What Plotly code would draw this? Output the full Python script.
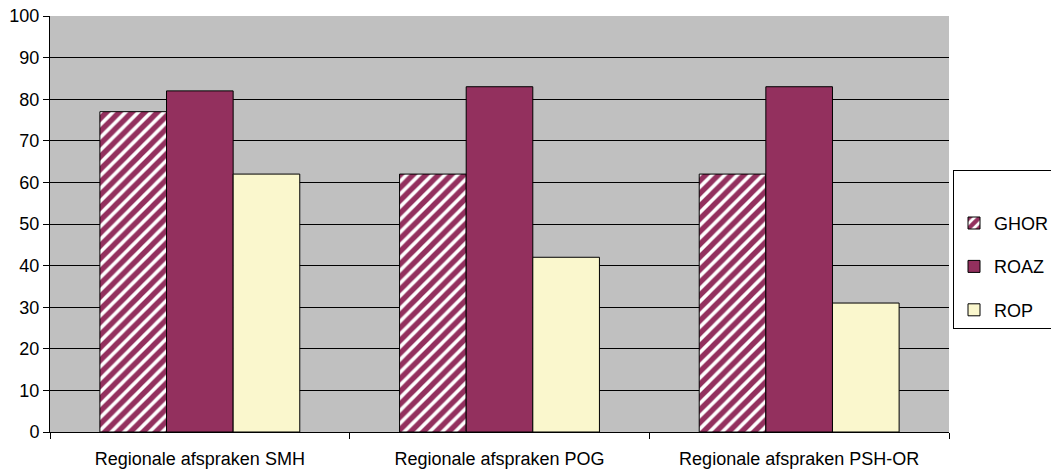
import plotly.graph_objects as go

categories = ["Regionale afspraken SMH", "Regionale afspraken POG", "Regionale afspraken PSH-OR"]
series_names = ["GHOR", "ROAZ", "ROP"]
ghor = [77, 62, 62]
roaz = [82, 83, 83]
rop = [62, 42, 31]
y_ticks = [0, 10, 20, 30, 40, 50, 60, 70, 80, 90, 100]

MAROON = "#93305E"
YELLOW = "#FAF7CD"
FONT = "Liberation Sans, Arial, sans-serif"

fig = go.Figure()
fig.add_trace(go.Bar(
    name=series_names[0], x=categories, y=ghor,
    marker=dict(color="white", line=dict(color="black", width=1),
                pattern=dict(shape="/", fgcolor=MAROON, bgcolor="white", size=9,
                             solidity=0.6, fgopacity=1)),
    legendgroup="a",
))
fig.add_trace(go.Bar(
    name=series_names[1], x=categories, y=roaz,
    marker=dict(color=MAROON, line=dict(color="black", width=1)),
    legendgroup="b",
))
fig.add_trace(go.Bar(
    name=series_names[2], x=categories, y=rop,
    marker=dict(color=YELLOW, line=dict(color="black", width=1)),
    legendgroup="c",
))

fig.update_layout(
    width=1051, height=471,
    margin=dict(l=50, r=102, t=16, b=39, autoexpand=False),
    paper_bgcolor="white",
    plot_bgcolor="#C0C0C0",
    barmode="group",
    bargap=0.333,
    bargroupgap=0,
    font=dict(family=FONT, size=18, color="black"),
    showlegend=True,
    legend=dict(
        x=(953 - 50) / 899, xanchor="left", y=(432 - 170) / 416, yanchor="top",
        bgcolor="white", bordercolor="black", borderwidth=1,
        font=dict(family=FONT, size=18, color="black"),
        title=dict(text="&nbsp;", font=dict(size=26)),
        tracegroupgap=17, itemwidth=30,
    ),
)
fig.update_xaxes(
    showline=True, linecolor="black", linewidth=1,
    ticks="outside", ticklen=6, tickcolor="black",
    tickson="boundaries", ticklabelstandoff=10,
    showgrid=False, tickfont=dict(size=18),
)
fig.update_yaxes(
    range=[0, 100], tickvals=y_ticks,
    showline=True, linecolor="black", linewidth=1,
    ticks="outside", ticklen=6, tickcolor="black",
    showgrid=True, gridcolor="black", gridwidth=1,
    zeroline=False, tickfont=dict(size=18),
)

fig.write_html("out.html", config={"displayModeBar": False},
               post_script="document.body.style.margin='0';")
